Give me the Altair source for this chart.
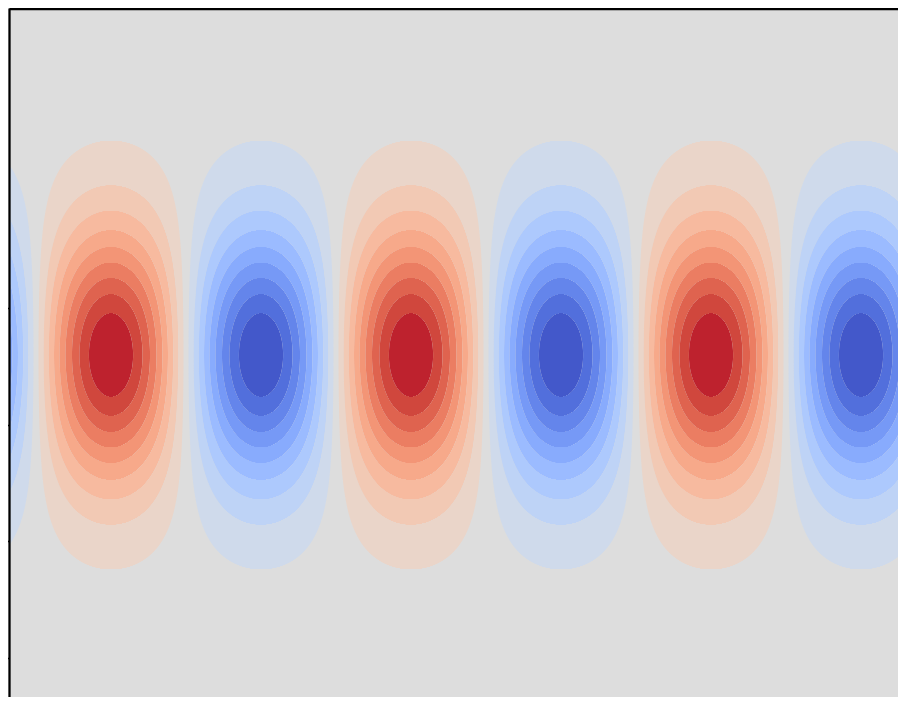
import numpy as np
import pandas as pd
import altair as alt

# ---- values (page-pixel coordinates) ----
PERIOD = 300.0        # horizontal period of the wave
ZERO_X = 36.0         # x where the field crosses zero going up (red to the right)
CENTER_Y = 355.0      # vertical centre of the lobes
WIDTH_Y = 125.0       # gaussian width of the lobes
N_LEVELS = 20         # contour levels from -1 to 1
X_RANGE = [9.0, 898.0]
Y_RANGE = [8.0, 697.0]
Y_TICKS = [308.0, 424.7, 541.3, 658.0]

# coolwarm colormap anchors (Moreland)
CW_POS = np.linspace(0, 1, 33)
CW_RGB = np.array([
    [59, 76, 192], [68, 90, 204], [77, 104, 215], [87, 117, 225], [98, 130, 234],
    [108, 142, 241], [119, 154, 247], [130, 165, 251], [141, 176, 254], [152, 185, 255],
    [163, 194, 255], [174, 201, 253], [184, 208, 249], [194, 213, 244], [204, 217, 238],
    [213, 219, 230], [221, 221, 221], [229, 216, 209], [236, 211, 197], [241, 204, 184],
    [245, 196, 172], [247, 187, 160], [247, 177, 148], [247, 166, 135], [244, 154, 123],
    [241, 141, 111], [236, 127, 99], [229, 112, 88], [222, 96, 77], [213, 80, 66],
    [203, 62, 56], [192, 40, 47], [180, 4, 38]], dtype=float)


def cmap(t):
    rgb = [np.interp(t, CW_POS, CW_RGB[:, k]) for k in range(3)]
    return "#%02x%02x%02x" % tuple(int(round(c)) for c in rgb)


levels = np.linspace(-1, 1, N_LEVELS)
mids = (levels[:-1] + levels[1:]) / 2
band_colors = [cmap((m + 1) / 2) for m in mids]
mid_band = int(np.argmin(np.abs(mids)))


def field(x, y):
    return np.sin(2 * np.pi * (x - ZERO_X) / PERIOD) * np.exp(-((y - CENTER_Y) / WIDTH_Y) ** 2)


k_min = int(np.floor((X_RANGE[0] - ZERO_X) / PERIOD)) - 1
k_max = int(np.ceil((X_RANGE[1] - ZERO_X) / PERIOD)) + 1
rows = []
for yr in range(int(Y_RANGE[0]), int(Y_RANGE[1])):
    yc = yr + 0.5
    g = np.exp(-((yc - CENTER_Y) / WIDTH_Y) ** 2)
    cuts = [X_RANGE[0], X_RANGE[1]]
    for lv in levels[1:-1]:
        r = lv / g
        if abs(r) >= 1:
            continue
        a = np.arcsin(r)
        for t in (a, np.pi - a):
            for k in range(k_min, k_max + 1):
                xb = ZERO_X + (t + 2 * np.pi * k) * PERIOD / (2 * np.pi)
                if X_RANGE[0] < xb < X_RANGE[1]:
                    cuts.append(xb)
    cuts = sorted(cuts)
    for x0, x1 in zip(cuts[:-1], cuts[1:]):
        if x1 - x0 < 1e-6:
            continue
        v = field((x0 + x1) / 2, yc)
        b = int(np.clip(np.searchsorted(levels, v) - 1, 0, len(mids) - 1))
        if b == mid_band:
            continue
        rows.append({"x": round(x0, 2), "x2": round(x1, 2),
                     "y": yr, "y2": yr + 1, "c": band_colors[b]})

df = pd.DataFrame(rows)
alt.data_transformers.disable_max_rows()

W = X_RANGE[1] - X_RANGE[0]
H = Y_RANGE[1] - Y_RANGE[0]

chart = alt.Chart(df).mark_rect(strokeWidth=0, opacity=1).encode(
    x=alt.X("x:Q", scale=alt.Scale(domain=X_RANGE, nice=False, zero=False),
            axis=alt.Axis(orient="top", labels=False, ticks=False, grid=False,
                          domain=True, domainColor="black", domainWidth=3.4,
                          title=None, zindex=1)),
    x2="x2:Q",
    y=alt.Y("y:Q", scale=alt.Scale(domain=Y_RANGE, nice=False, zero=False, reverse=True),
            axis=alt.Axis(orient="left", labels=False, values=Y_TICKS, ticks=True,
                          tickColor="black", tickSize=3, tickWidth=1.5, grid=False,
                          domain=True, domainColor="black", domainWidth=2.3,
                          title=None, zindex=1)),
    y2="y2:Q",
    color=alt.Color("c:N", scale=None),
).properties(
    width=W, height=H,
    padding={"left": 1, "top": 0, "right": 0, "bottom": 0},
    autosize=alt.AutoSizeParams(type="none"),
    background="white",
).configure_view(fill="#dddddd", strokeWidth=0)

chart.save("out.html", embed_options={"renderer": "svg", "actions": False})
